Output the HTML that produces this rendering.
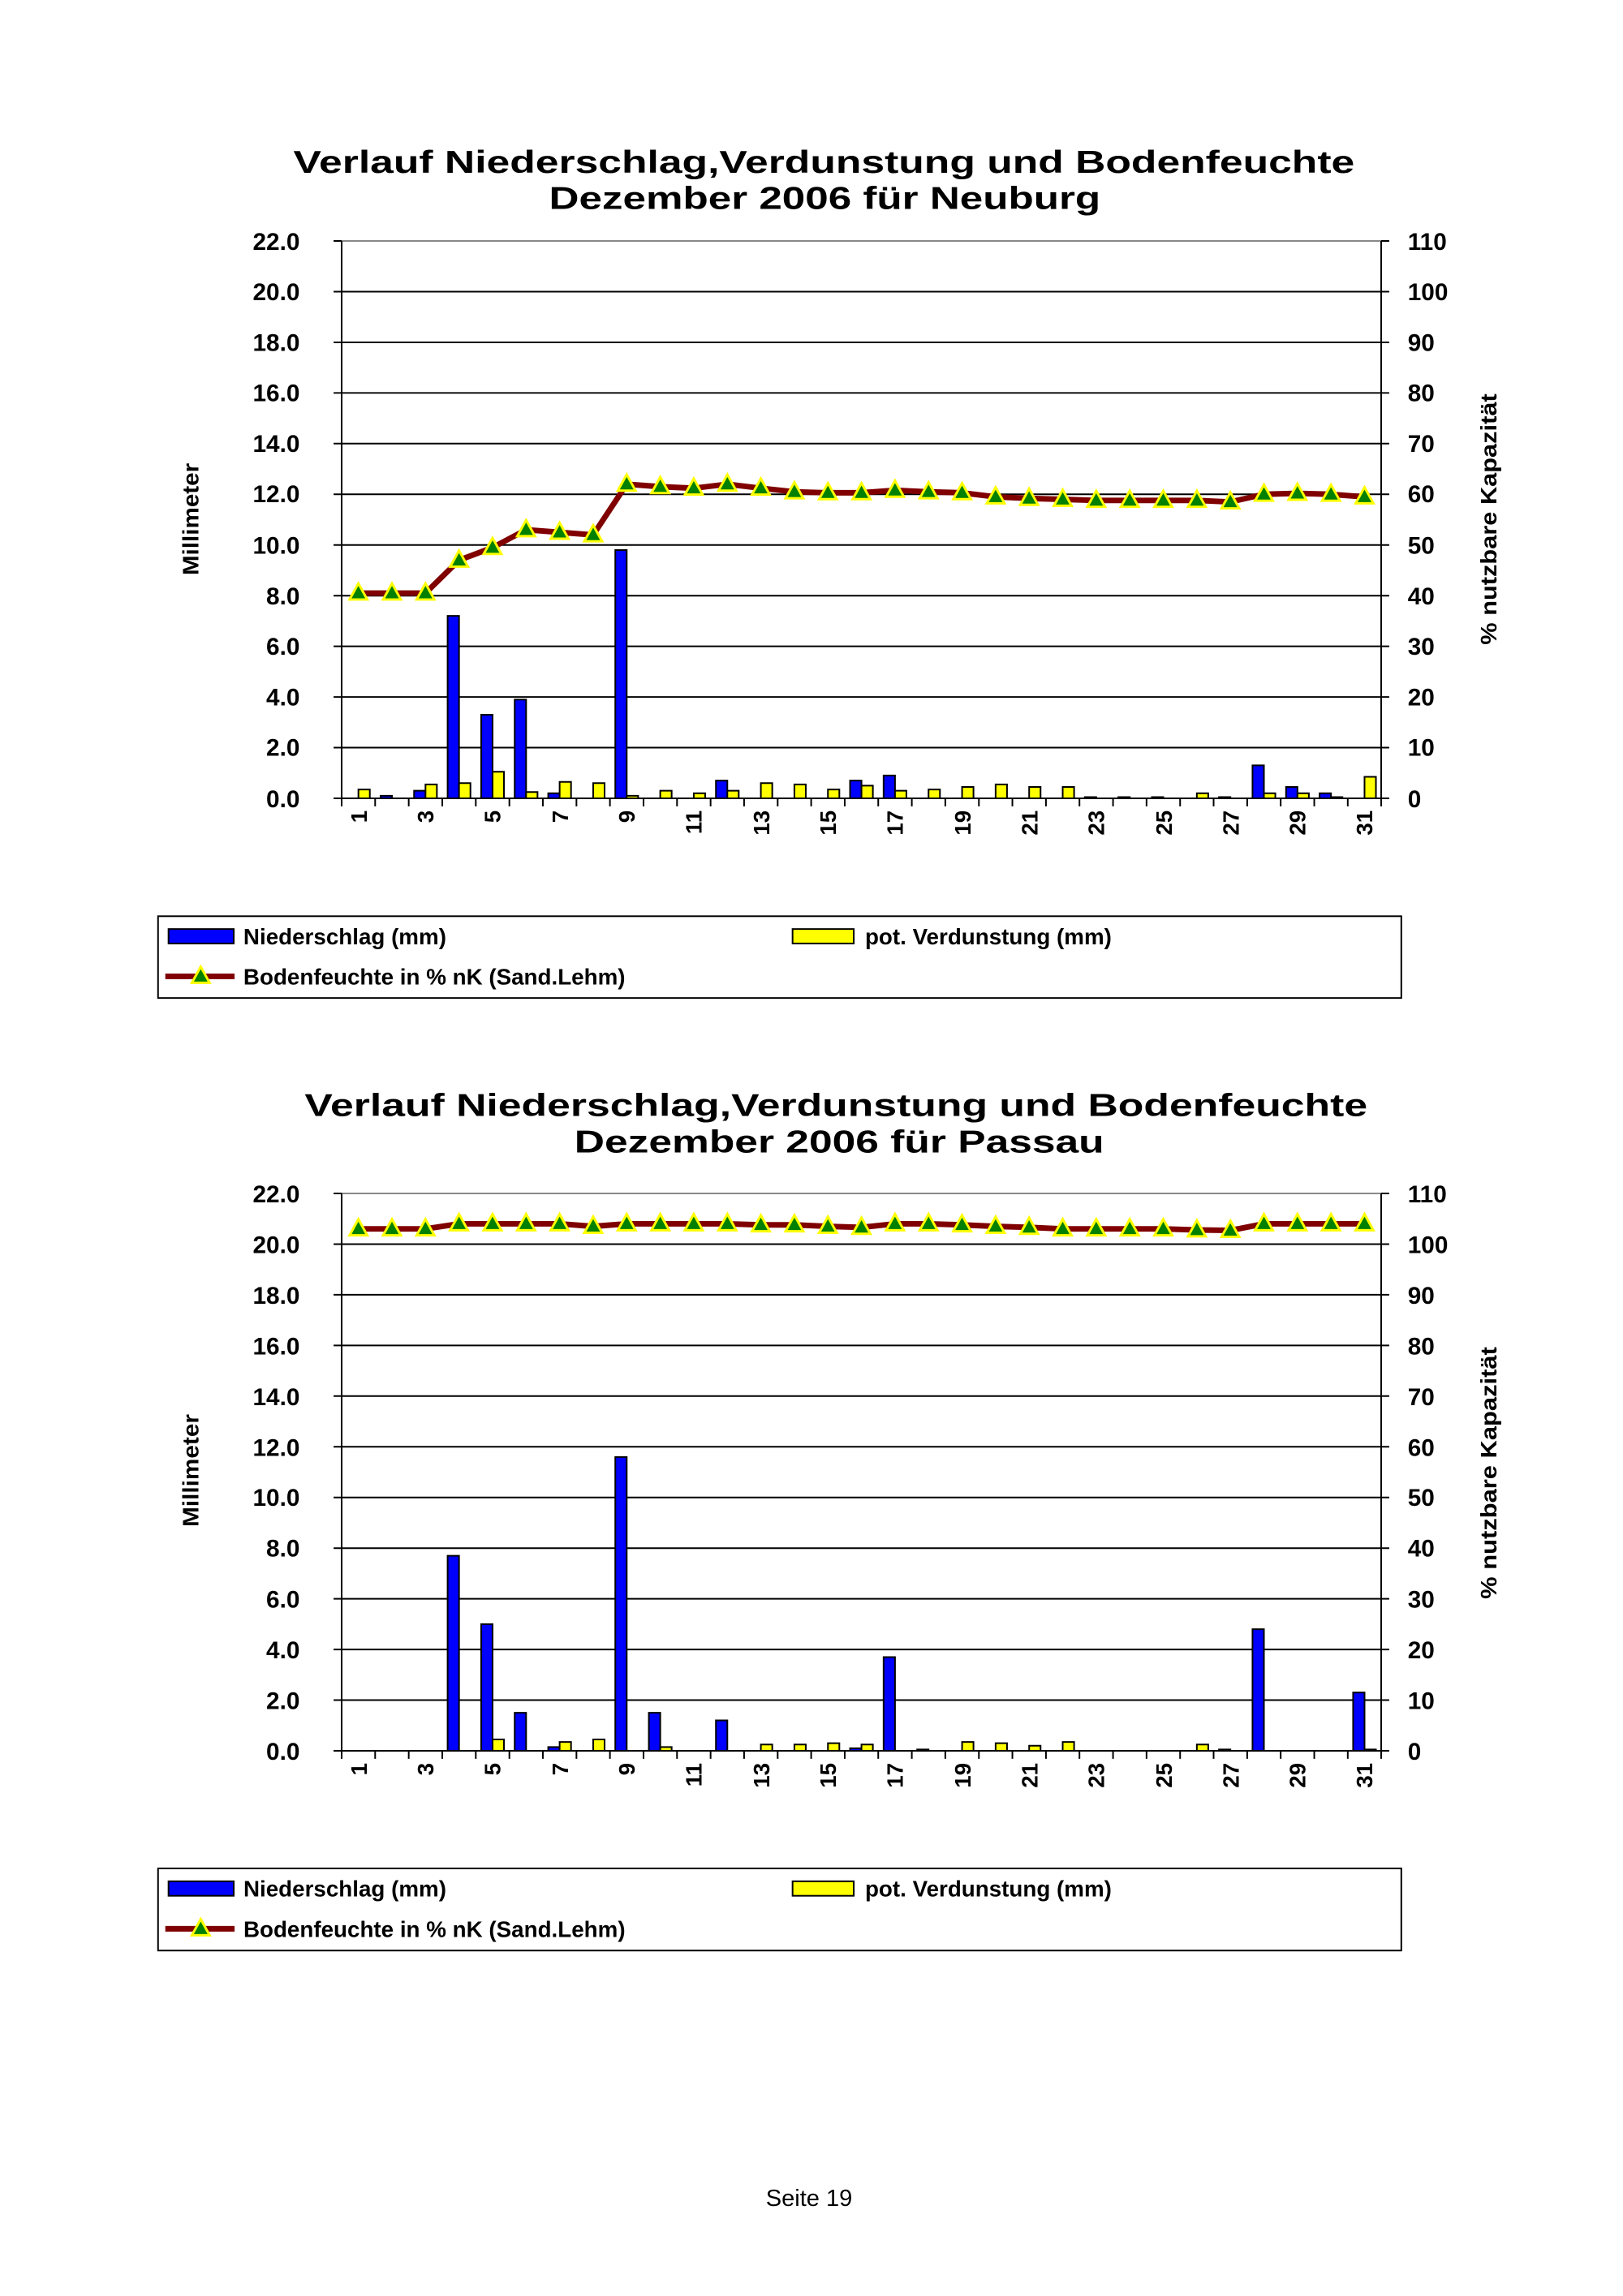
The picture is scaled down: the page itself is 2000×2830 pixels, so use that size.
<!DOCTYPE html>
<html><head><meta charset="utf-8"><style>
html,body{margin:0;padding:0;background:#fff;}
svg{display:block;font-family:"Liberation Sans",Arial,sans-serif;}
</style></head><body>
<svg width="2000" height="2830" viewBox="0 0 2000 2830" xmlns="http://www.w3.org/2000/svg">
<defs>
<polygon id="t" points="0,-12 11,8 -11,8" fill="#008000" stroke="#ffff00" stroke-width="3"/>
</defs>
<rect width="2000" height="2830" fill="#fff"/>

<!-- ===== CHART 1 ===== -->
<g transform="matrix(0.99225 0 0 0.98849 0.29 2.43)">
<g font-weight="bold" fill="#000">
<text x="1023" y="213" font-size="39" text-anchor="middle" textLength="1318" lengthAdjust="spacingAndGlyphs">Verlauf Niederschlag,Verdunstung und Bodenfeuchte</text>
<text x="1024" y="258" font-size="39" text-anchor="middle" textLength="685" lengthAdjust="spacingAndGlyphs">Dezember 2006 für Neuburg</text>
</g>
<g stroke="#000" stroke-width="2">
<line x1="424" y1="298" x2="1715" y2="298" stroke="#888"/>
<line x1="424" y1="361.2" x2="1715" y2="361.2"/><line x1="424" y1="424.4" x2="1715" y2="424.4"/>
<line x1="424" y1="487.5" x2="1715" y2="487.5"/><line x1="424" y1="550.7" x2="1715" y2="550.7"/>
<line x1="424" y1="613.9" x2="1715" y2="613.9"/><line x1="424" y1="677.1" x2="1715" y2="677.1"/>
<line x1="424" y1="740.3" x2="1715" y2="740.3"/><line x1="424" y1="803.4" x2="1715" y2="803.4"/>
<line x1="424" y1="866.6" x2="1715" y2="866.6"/><line x1="424" y1="929.8" x2="1715" y2="929.8"/>
<line x1="424" y1="993" x2="1715" y2="993"/>
<line x1="424" y1="298" x2="424" y2="993"/><line x1="1715" y1="298" x2="1715" y2="993"/>
</g>
<g stroke="#000" stroke-width="2">
<path d="M414 298H424M414 361.2H424M414 424.4H424M414 487.5H424M414 550.7H424M414 613.9H424M414 677.1H424M414 740.3H424M414 803.4H424M414 866.6H424M414 929.8H424M414 993H424"/>
<path d="M1715 298H1725M1715 361.2H1725M1715 424.4H1725M1715 487.5H1725M1715 550.7H1725M1715 613.9H1725M1715 677.1H1725M1715 740.3H1725M1715 803.4H1725M1715 866.6H1725M1715 929.8H1725M1715 993H1725"/>
<path d="M424 993v10M465.6 993v10M507.3 993v10M549 993v10M590.6 993v10M632.3 993v10M673.9 993v10M715.6 993v10M757.2 993v10M798.9 993v10M840.5 993v10M882.2 993v10M923.8 993v10M965.5 993v10M1007.1 993v10M1048.8 993v10M1090.4 993v10M1132.1 993v10M1173.7 993v10M1215.4 993v10M1257 993v10M1298.7 993v10M1340.3 993v10M1382 993v10M1423.6 993v10M1465.3 993v10M1506.9 993v10M1548.6 993v10M1590.2 993v10M1631.9 993v10M1673.5 993v10M1715 993v10"/>
</g>
<g font-size="30" font-weight="bold" text-anchor="end">
<text x="372" y="309">22.0</text><text x="372" y="372">20.0</text><text x="372" y="435">18.0</text>
<text x="372" y="498">16.0</text><text x="372" y="561">14.0</text><text x="372" y="624">12.0</text>
<text x="372" y="688">10.0</text><text x="372" y="751">8.0</text><text x="372" y="814">6.0</text>
<text x="372" y="877">4.0</text><text x="372" y="940">2.0</text><text x="372" y="1004">0.0</text>
</g>
<g font-size="30" font-weight="bold">
<text x="1748" y="309">110</text><text x="1748" y="372">100</text><text x="1748" y="435">90</text>
<text x="1748" y="498">80</text><text x="1748" y="561">70</text><text x="1748" y="624">60</text>
<text x="1748" y="688">50</text><text x="1748" y="751">40</text><text x="1748" y="814">30</text>
<text x="1748" y="877">20</text><text x="1748" y="940">10</text><text x="1748" y="1004">0</text>
</g>
<text transform="translate(246,645) rotate(-90)" font-size="28" font-weight="bold" text-anchor="middle" textLength="140" lengthAdjust="spacingAndGlyphs">Millimeter</text>
<text transform="translate(1858,645) rotate(-90)" font-size="28" font-weight="bold" text-anchor="middle" textLength="313" lengthAdjust="spacingAndGlyphs">% nutzbare Kapazität</text>
<g font-size="28" font-weight="bold" text-anchor="end">
<text transform="translate(455,1008) rotate(-90)">1</text><text transform="translate(538,1008) rotate(-90)">3</text>
<text transform="translate(621,1008) rotate(-90)">5</text><text transform="translate(705,1008) rotate(-90)">7</text>
<text transform="translate(788,1008) rotate(-90)">9</text><text transform="translate(871,1008) rotate(-90)">11</text>
<text transform="translate(955,1008) rotate(-90)">13</text><text transform="translate(1038,1008) rotate(-90)">15</text>
<text transform="translate(1121,1008) rotate(-90)">17</text><text transform="translate(1205,1008) rotate(-90)">19</text>
<text transform="translate(1288,1008) rotate(-90)">21</text><text transform="translate(1371,1008) rotate(-90)">23</text>
<text transform="translate(1455,1008) rotate(-90)">25</text><text transform="translate(1538,1008) rotate(-90)">27</text>
<text transform="translate(1621,1008) rotate(-90)">29</text><text transform="translate(1704,1008) rotate(-90)">31</text>
</g>
<g transform="translate(424,993) scale(41.65,-31.59)" stroke="#000" stroke-width="2">
<g fill="#0000ff">
<rect x="1.16" width="0.34" height="0.1" vector-effect="non-scaling-stroke"/>
<rect x="2.16" width="0.34" height="0.3" vector-effect="non-scaling-stroke"/>
<rect x="3.16" width="0.34" height="7.2" vector-effect="non-scaling-stroke"/>
<rect x="4.16" width="0.34" height="3.3" vector-effect="non-scaling-stroke"/>
<rect x="5.16" width="0.34" height="3.9" vector-effect="non-scaling-stroke"/>
<rect x="6.16" width="0.34" height="0.2" vector-effect="non-scaling-stroke"/>
<rect x="8.16" width="0.34" height="9.8" vector-effect="non-scaling-stroke"/>
<rect x="11.16" width="0.34" height="0.7" vector-effect="non-scaling-stroke"/>
<rect x="15.16" width="0.34" height="0.7" vector-effect="non-scaling-stroke"/>
<rect x="16.16" width="0.34" height="0.9" vector-effect="non-scaling-stroke"/>
<rect x="22.16" width="0.34" height="0.05" vector-effect="non-scaling-stroke"/>
<rect x="23.16" width="0.34" height="0.05" vector-effect="non-scaling-stroke"/>
<rect x="24.16" width="0.34" height="0.05" vector-effect="non-scaling-stroke"/>
<rect x="26.16" width="0.34" height="0.05" vector-effect="non-scaling-stroke"/>
<rect x="27.16" width="0.34" height="1.3" vector-effect="non-scaling-stroke"/>
<rect x="28.16" width="0.34" height="0.45" vector-effect="non-scaling-stroke"/>
<rect x="29.16" width="0.34" height="0.2" vector-effect="non-scaling-stroke"/>
</g>
<g fill="#ffff00">
<rect x="0.5" width="0.34" height="0.35" vector-effect="non-scaling-stroke"/>
<rect x="2.5" width="0.34" height="0.55" vector-effect="non-scaling-stroke"/>
<rect x="3.5" width="0.34" height="0.6" vector-effect="non-scaling-stroke"/>
<rect x="4.5" width="0.34" height="1.05" vector-effect="non-scaling-stroke"/>
<rect x="5.5" width="0.34" height="0.25" vector-effect="non-scaling-stroke"/>
<rect x="6.5" width="0.34" height="0.65" vector-effect="non-scaling-stroke"/>
<rect x="7.5" width="0.34" height="0.6" vector-effect="non-scaling-stroke"/>
<rect x="8.5" width="0.34" height="0.1" vector-effect="non-scaling-stroke"/>
<rect x="9.5" width="0.34" height="0.3" vector-effect="non-scaling-stroke"/>
<rect x="10.5" width="0.34" height="0.2" vector-effect="non-scaling-stroke"/>
<rect x="11.5" width="0.34" height="0.3" vector-effect="non-scaling-stroke"/>
<rect x="12.5" width="0.34" height="0.6" vector-effect="non-scaling-stroke"/>
<rect x="13.5" width="0.34" height="0.55" vector-effect="non-scaling-stroke"/>
<rect x="14.5" width="0.34" height="0.35" vector-effect="non-scaling-stroke"/>
<rect x="15.5" width="0.34" height="0.5" vector-effect="non-scaling-stroke"/>
<rect x="16.5" width="0.34" height="0.3" vector-effect="non-scaling-stroke"/>
<rect x="17.5" width="0.34" height="0.35" vector-effect="non-scaling-stroke"/>
<rect x="18.5" width="0.34" height="0.45" vector-effect="non-scaling-stroke"/>
<rect x="19.5" width="0.34" height="0.55" vector-effect="non-scaling-stroke"/>
<rect x="20.5" width="0.34" height="0.45" vector-effect="non-scaling-stroke"/>
<rect x="21.5" width="0.34" height="0.45" vector-effect="non-scaling-stroke"/>
<rect x="25.5" width="0.34" height="0.2" vector-effect="non-scaling-stroke"/>
<rect x="27.5" width="0.34" height="0.2" vector-effect="non-scaling-stroke"/>
<rect x="28.5" width="0.34" height="0.2" vector-effect="non-scaling-stroke"/>
<rect x="29.5" width="0.34" height="0.05" vector-effect="non-scaling-stroke"/>
<rect x="30.5" width="0.34" height="0.85" vector-effect="non-scaling-stroke"/>
</g>
</g>
<polyline fill="none" stroke="#800000" stroke-width="7" stroke-linejoin="round" points="444.8,737.1 486.5,737.1 528.1,737.1 569.8,696.1 611.4,680.3 653.1,658.1 694.7,661.3 736.4,664.5 778,601.3 819.7,604.4 861.3,606.3 903,601.3 944.6,606.3 986.3,610.8 1027.9,612 1069.6,612 1111.2,608.9 1152.9,610.8 1194.5,612 1236.2,617.1 1277.8,619 1319.5,620.2 1361.1,621.5 1402.8,621.5 1444.4,621.5 1486.1,621.5 1527.7,623.4 1569.4,613.9 1611,612.7 1652.7,613.9 1694.3,617.1"/>
<g>
<use href="#t" x="444.8" y="737.1"/><use href="#t" x="486.5" y="737.1"/><use href="#t" x="528.1" y="737.1"/>
<use href="#t" x="569.8" y="696.1"/><use href="#t" x="611.4" y="680.3"/><use href="#t" x="653.1" y="658.1"/>
<use href="#t" x="694.7" y="661.3"/><use href="#t" x="736.4" y="664.5"/><use href="#t" x="778" y="601.3"/>
<use href="#t" x="819.7" y="604.4"/><use href="#t" x="861.3" y="606.3"/><use href="#t" x="903" y="601.3"/>
<use href="#t" x="944.6" y="606.3"/><use href="#t" x="986.3" y="610.8"/><use href="#t" x="1027.9" y="612"/>
<use href="#t" x="1069.6" y="612"/><use href="#t" x="1111.2" y="608.9"/><use href="#t" x="1152.9" y="610.8"/>
<use href="#t" x="1194.5" y="612"/><use href="#t" x="1236.2" y="617.1"/><use href="#t" x="1277.8" y="619"/>
<use href="#t" x="1319.5" y="620.2"/><use href="#t" x="1361.1" y="621.5"/><use href="#t" x="1402.8" y="621.5"/>
<use href="#t" x="1444.4" y="621.5"/><use href="#t" x="1486.1" y="621.5"/><use href="#t" x="1527.7" y="623.4"/>
<use href="#t" x="1569.4" y="613.9"/><use href="#t" x="1611" y="612.7"/><use href="#t" x="1652.7" y="613.9"/>
<use href="#t" x="1694.3" y="617.1"/>
</g>
<rect x="196" y="1140" width="1544" height="102" fill="none" stroke="#000" stroke-width="2"/>
<rect x="209" y="1156" width="81" height="18" fill="#0000ff" stroke="#000" stroke-width="2"/>
<rect x="984" y="1156" width="76" height="18" fill="#ffff00" stroke="#000" stroke-width="2"/>
<line x1="205" y1="1215" x2="291" y2="1215" stroke="#800000" stroke-width="7"/>
<use href="#t" x="249" y="1215"/>
<g font-size="28" font-weight="bold">
<text x="302" y="1175">Niederschlag (mm)</text>
<text x="1074" y="1175">pot. Verdunstung (mm)</text>
<text x="302" y="1225">Bodenfeuchte in % nK (Sand.Lehm)</text>
</g>
</g>

<!-- ===== CHART 2 ===== -->
<g transform="matrix(0.99225 0 0 0.99277 0.29 1.70)">
<g font-weight="bold" fill="#000">
<text x="1038" y="1384" font-size="39" text-anchor="middle" textLength="1320" lengthAdjust="spacingAndGlyphs">Verlauf Niederschlag,Verdunstung und Bodenfeuchte</text>
<text x="1042" y="1429" font-size="39" text-anchor="middle" textLength="658" lengthAdjust="spacingAndGlyphs">Dezember 2006 für Passau</text>
</g>
<g stroke="#000" stroke-width="2">
<line x1="424" y1="1480" x2="1715" y2="1480" stroke="#888"/>
<line x1="424" y1="1542.9" x2="1715" y2="1542.9"/><line x1="424" y1="1605.8" x2="1715" y2="1605.8"/>
<line x1="424" y1="1668.7" x2="1715" y2="1668.7"/><line x1="424" y1="1731.6" x2="1715" y2="1731.6"/>
<line x1="424" y1="1794.5" x2="1715" y2="1794.5"/><line x1="424" y1="1857.5" x2="1715" y2="1857.5"/>
<line x1="424" y1="1920.4" x2="1715" y2="1920.4"/><line x1="424" y1="1983.3" x2="1715" y2="1983.3"/>
<line x1="424" y1="2046.2" x2="1715" y2="2046.2"/><line x1="424" y1="2109.1" x2="1715" y2="2109.1"/>
<line x1="424" y1="2172" x2="1715" y2="2172"/>
<line x1="424" y1="1480" x2="424" y2="2172"/><line x1="1715" y1="1480" x2="1715" y2="2172"/>
</g>
<g stroke="#000" stroke-width="2">
<path d="M414 1480H424M414 1542.9H424M414 1605.8H424M414 1668.7H424M414 1731.6H424M414 1794.5H424M414 1857.5H424M414 1920.4H424M414 1983.3H424M414 2046.2H424M414 2109.1H424M414 2172H424"/>
<path d="M1715 1480H1725M1715 1542.9H1725M1715 1605.8H1725M1715 1668.7H1725M1715 1731.6H1725M1715 1794.5H1725M1715 1857.5H1725M1715 1920.4H1725M1715 1983.3H1725M1715 2046.2H1725M1715 2109.1H1725M1715 2172H1725"/>
<path d="M424 2172v10M465.6 2172v10M507.3 2172v10M549 2172v10M590.6 2172v10M632.3 2172v10M673.9 2172v10M715.6 2172v10M757.2 2172v10M798.9 2172v10M840.5 2172v10M882.2 2172v10M923.8 2172v10M965.5 2172v10M1007.1 2172v10M1048.8 2172v10M1090.4 2172v10M1132.1 2172v10M1173.7 2172v10M1215.4 2172v10M1257 2172v10M1298.7 2172v10M1340.3 2172v10M1382 2172v10M1423.6 2172v10M1465.3 2172v10M1506.9 2172v10M1548.6 2172v10M1590.2 2172v10M1631.9 2172v10M1673.5 2172v10M1715 2172v10"/>
</g>
<g font-size="30" font-weight="bold" text-anchor="end">
<text x="372" y="1491">22.0</text><text x="372" y="1554">20.0</text><text x="372" y="1617">18.0</text>
<text x="372" y="1680">16.0</text><text x="372" y="1743">14.0</text><text x="372" y="1806">12.0</text>
<text x="372" y="1868">10.0</text><text x="372" y="1931">8.0</text><text x="372" y="1994">6.0</text>
<text x="372" y="2057">4.0</text><text x="372" y="2120">2.0</text><text x="372" y="2183">0.0</text>
</g>
<g font-size="30" font-weight="bold">
<text x="1748" y="1491">110</text><text x="1748" y="1554">100</text><text x="1748" y="1617">90</text>
<text x="1748" y="1680">80</text><text x="1748" y="1743">70</text><text x="1748" y="1806">60</text>
<text x="1748" y="1868">50</text><text x="1748" y="1931">40</text><text x="1748" y="1994">30</text>
<text x="1748" y="2057">20</text><text x="1748" y="2120">10</text><text x="1748" y="2183">0</text>
</g>
<text transform="translate(246,1824) rotate(-90)" font-size="28" font-weight="bold" text-anchor="middle" textLength="140" lengthAdjust="spacingAndGlyphs">Millimeter</text>
<text transform="translate(1858,1827) rotate(-90)" font-size="28" font-weight="bold" text-anchor="middle" textLength="313" lengthAdjust="spacingAndGlyphs">% nutzbare Kapazität</text>
<g font-size="28" font-weight="bold" text-anchor="end">
<text transform="translate(455,2187) rotate(-90)">1</text><text transform="translate(538,2187) rotate(-90)">3</text>
<text transform="translate(621,2187) rotate(-90)">5</text><text transform="translate(705,2187) rotate(-90)">7</text>
<text transform="translate(788,2187) rotate(-90)">9</text><text transform="translate(871,2187) rotate(-90)">11</text>
<text transform="translate(955,2187) rotate(-90)">13</text><text transform="translate(1038,2187) rotate(-90)">15</text>
<text transform="translate(1121,2187) rotate(-90)">17</text><text transform="translate(1205,2187) rotate(-90)">19</text>
<text transform="translate(1288,2187) rotate(-90)">21</text><text transform="translate(1371,2187) rotate(-90)">23</text>
<text transform="translate(1455,2187) rotate(-90)">25</text><text transform="translate(1538,2187) rotate(-90)">27</text>
<text transform="translate(1621,2187) rotate(-90)">29</text><text transform="translate(1704,2187) rotate(-90)">31</text>
</g>
<g transform="translate(424,2172) scale(41.65,-31.45)" stroke="#000" stroke-width="2">
<g fill="#0000ff">
<rect x="3.16" width="0.34" height="7.7" vector-effect="non-scaling-stroke"/>
<rect x="4.16" width="0.34" height="5.0" vector-effect="non-scaling-stroke"/>
<rect x="5.16" width="0.34" height="1.5" vector-effect="non-scaling-stroke"/>
<rect x="6.16" width="0.34" height="0.15" vector-effect="non-scaling-stroke"/>
<rect x="8.16" width="0.34" height="11.6" vector-effect="non-scaling-stroke"/>
<rect x="9.16" width="0.34" height="1.5" vector-effect="non-scaling-stroke"/>
<rect x="11.16" width="0.34" height="1.2" vector-effect="non-scaling-stroke"/>
<rect x="15.16" width="0.34" height="0.1" vector-effect="non-scaling-stroke"/>
<rect x="16.16" width="0.34" height="3.7" vector-effect="non-scaling-stroke"/>
<rect x="17.16" width="0.34" height="0.05" vector-effect="non-scaling-stroke"/>
<rect x="26.16" width="0.34" height="0.05" vector-effect="non-scaling-stroke"/>
<rect x="27.16" width="0.34" height="4.8" vector-effect="non-scaling-stroke"/>
<rect x="30.16" width="0.34" height="2.3" vector-effect="non-scaling-stroke"/>
</g>
<g fill="#ffff00">
<rect x="4.5" width="0.34" height="0.45" vector-effect="non-scaling-stroke"/>
<rect x="6.5" width="0.34" height="0.35" vector-effect="non-scaling-stroke"/>
<rect x="7.5" width="0.34" height="0.45" vector-effect="non-scaling-stroke"/>
<rect x="9.5" width="0.34" height="0.15" vector-effect="non-scaling-stroke"/>
<rect x="12.5" width="0.34" height="0.25" vector-effect="non-scaling-stroke"/>
<rect x="13.5" width="0.34" height="0.25" vector-effect="non-scaling-stroke"/>
<rect x="14.5" width="0.34" height="0.3" vector-effect="non-scaling-stroke"/>
<rect x="15.5" width="0.34" height="0.25" vector-effect="non-scaling-stroke"/>
<rect x="18.5" width="0.34" height="0.35" vector-effect="non-scaling-stroke"/>
<rect x="19.5" width="0.34" height="0.3" vector-effect="non-scaling-stroke"/>
<rect x="20.5" width="0.34" height="0.2" vector-effect="non-scaling-stroke"/>
<rect x="21.5" width="0.34" height="0.35" vector-effect="non-scaling-stroke"/>
<rect x="25.5" width="0.34" height="0.25" vector-effect="non-scaling-stroke"/>
<rect x="30.5" width="0.34" height="0.05" vector-effect="non-scaling-stroke"/>
</g>
</g>
<polyline fill="none" stroke="#800000" stroke-width="7" stroke-linejoin="round" points="444.8,1524 486.5,1524 528.1,1524 569.8,1517.7 611.4,1517.7 653.1,1517.7 694.7,1517.7 736.4,1520.9 778,1517.7 819.7,1517.7 861.3,1517.7 903,1517.7 944.6,1519 986.3,1519 1027.9,1520.9 1069.6,1522.1 1111.2,1517.7 1152.9,1517.7 1194.5,1519 1236.2,1520.9 1277.8,1522.1 1319.5,1524 1361.1,1524 1402.8,1524 1444.4,1524 1486.1,1525.3 1527.7,1525.9 1569.4,1517.7 1611,1517.7 1652.7,1517.7 1694.3,1517.7"/>
<g>
<use href="#t" x="444.8" y="1524"/><use href="#t" x="486.5" y="1524"/><use href="#t" x="528.1" y="1524"/>
<use href="#t" x="569.8" y="1517.7"/><use href="#t" x="611.4" y="1517.7"/><use href="#t" x="653.1" y="1517.7"/>
<use href="#t" x="694.7" y="1517.7"/><use href="#t" x="736.4" y="1520.9"/><use href="#t" x="778" y="1517.7"/>
<use href="#t" x="819.7" y="1517.7"/><use href="#t" x="861.3" y="1517.7"/><use href="#t" x="903" y="1517.7"/>
<use href="#t" x="944.6" y="1519"/><use href="#t" x="986.3" y="1519"/><use href="#t" x="1027.9" y="1520.9"/>
<use href="#t" x="1069.6" y="1522.1"/><use href="#t" x="1111.2" y="1517.7"/><use href="#t" x="1152.9" y="1517.7"/>
<use href="#t" x="1194.5" y="1519"/><use href="#t" x="1236.2" y="1520.9"/><use href="#t" x="1277.8" y="1522.1"/>
<use href="#t" x="1319.5" y="1524"/><use href="#t" x="1361.1" y="1524"/><use href="#t" x="1402.8" y="1524"/>
<use href="#t" x="1444.4" y="1524"/><use href="#t" x="1486.1" y="1525.3"/><use href="#t" x="1527.7" y="1525.9"/>
<use href="#t" x="1569.4" y="1517.7"/><use href="#t" x="1611" y="1517.7"/><use href="#t" x="1652.7" y="1517.7"/>
<use href="#t" x="1694.3" y="1517.7"/>
</g>
<rect x="196" y="2318" width="1544" height="102" fill="none" stroke="#000" stroke-width="2"/>
<rect x="209" y="2334" width="81" height="18" fill="#0000ff" stroke="#000" stroke-width="2"/>
<rect x="984" y="2334" width="76" height="18" fill="#ffff00" stroke="#000" stroke-width="2"/>
<line x1="205" y1="2393" x2="291" y2="2393" stroke="#800000" stroke-width="7"/>
<use href="#t" x="249" y="2393"/>
<g font-size="28" font-weight="bold">
<text x="302" y="2353">Niederschlag (mm)</text>
<text x="1074" y="2353">pot. Verdunstung (mm)</text>
<text x="302" y="2403">Bodenfeuchte in % nK (Sand.Lehm)</text>
</g>
</g>

<text x="997" y="2719" font-size="29" text-anchor="middle">Seite 19</text>
</svg>
</body></html>
